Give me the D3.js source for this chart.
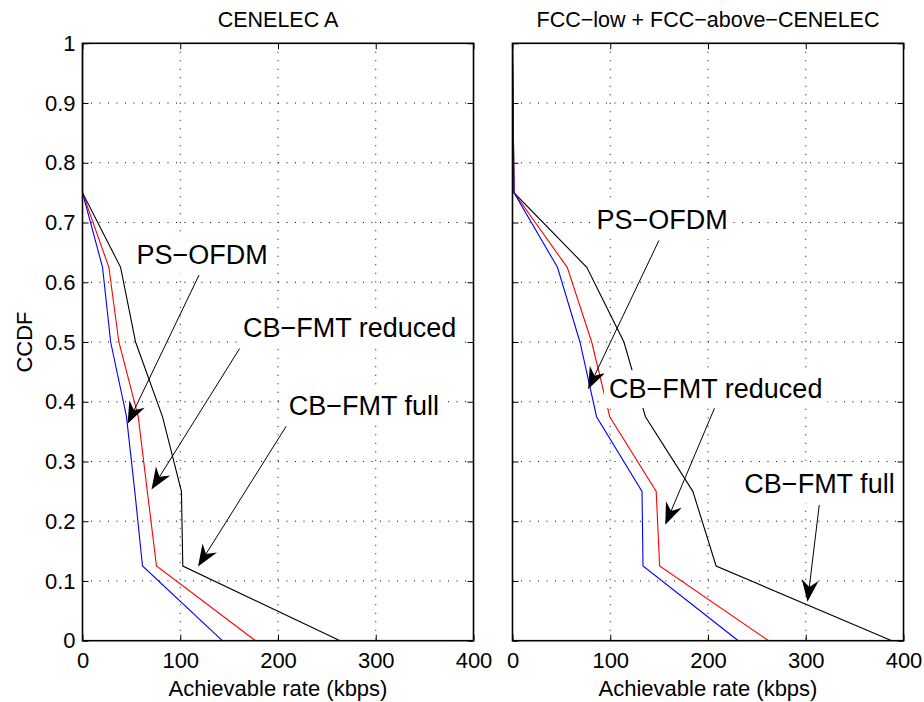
<html>
<head>
  <script src="https://d3js.org/d3.v7.min.js"></script>
  <style>
  body{ margin:0; background:#fff; }
  svg{ display:block; }
  text{ font-family:"Liberation Sans", Arial, Helvetica, sans-serif; fill:#000; }
  </style>
</head>
<body>
  <script type="text/javascript">
    // chart values
    var ccdfLevels=[1,0.75,0.625,0.5,0.375,0.25,0.125,0];
    var xTicks=[0,100,200,300,400];
    var yTicks=[0,0.1,0.2,0.3,0.4,0.5,0.6,0.7,0.8,0.9,1];
    var yTickLabels=["0","0.1","0.2","0.3","0.4","0.5","0.6","0.7","0.8","0.9","1"];
    var panelTitles=["CENELEC A","FCC\u2212low + FCC\u2212above\u2212CENELEC"];
    var seriesNames=["PS\u2212OFDM","CB\u2212FMT reduced","CB\u2212FMT full"];
    var seriesColors=["#0000ff","#ff0000","#000000"];

    var cenelecPsOfdm=[0,0,20.5,28.8,45,53.5,61.4,143];
    var cenelecCbFmtReduced=[0,0,27,37.2,57,66.3,75.7,177];
    var cenelecCbFmtFull=[0,0,39,54.3,81.8,101.2,102.6,263.5];
    var fccPsOfdm=[0,1.5,46,69,86,132.5,133.5,231];
    var fccCbFmtReduced=[0,1.5,56,81,99.5,147,150.5,262];
    var fccCbFmtFull=[0,1.5,76,114,136,184.5,208.3,388];

    // annotation anchors, in data units (kbps, ccdf)
    var cenelecTextPos=[[55.3,0.631],[164.1,0.509],[211,0.378]];
    var cenelecArrowFrom=[[119.2,0.612],[160.7,0.489],[208.4,0.359]];
    var cenelecArrowTo=[[46.1,0.363],[70.6,0.253],[118.2,0.124]];
    var fccTextPos=[[85.9,0.689],[98.8,0.406],[237.2,0.247]];
    var fccArrowFrom=[[149.8,0.670],[206.6,0.389],[313.8,0.227]];
    var fccArrowTo=[[77.3,0.421],[156.3,0.194],[301.8,0.065]];

    var width=924;
    var height=702;
    var plotTop=43.3;
    var plotH=597.4;
    var plotW=391;
    var tickLen=6;

    var panels=[
      {x0:82.5, title:panelTitles[0], series:[cenelecCbFmtFull,cenelecCbFmtReduced,cenelecPsOfdm],
       colors:[seriesColors[2],seriesColors[1],seriesColors[0]],
       textPos:cenelecTextPos, from:cenelecArrowFrom, to:cenelecArrowTo, yLabels:true},
      {x0:512.5, title:panelTitles[1], series:[fccCbFmtFull,fccCbFmtReduced,fccPsOfdm],
       colors:[seriesColors[2],seriesColors[1],seriesColors[0]],
       textPos:fccTextPos, from:fccArrowFrom, to:fccArrowTo, yLabels:false}
    ];

    var svg=d3.select("body").append("svg")
              .attr("width",width)
              .attr("height",height);

    var x=d3.scaleLinear().domain([0,400]).range([0,plotW]);
    var y=d3.scaleLinear().domain([0,1]).range([plotH,0]);

    var line=d3.line()
               .x(function(d){ return x(d[0]) })
               .y(function(d){ return y(d[1]) });

    var drawPanel=function(p){
      var g=svg.append("g").attr("transform","translate("+p.x0+","+plotTop+")");

      // grid
      g.selectAll("line.gx")
       .data(xTicks.slice(1,-1))
       .enter().append("line")
       .attr("x1",function(d){ return x(d) }).attr("x2",function(d){ return x(d) })
       .attr("y1",0).attr("y2",plotH)
       .attr("stroke","#000").attr("stroke-width",1)
       .attr("stroke-dasharray","1,7.5");
      g.selectAll("line.gy")
       .data(yTicks.slice(1,-1))
       .enter().append("line")
       .attr("y1",function(d){ return y(d) }).attr("y2",function(d){ return y(d) })
       .attr("x1",0).attr("x2",plotW)
       .attr("stroke","#000").attr("stroke-width",1)
       .attr("stroke-dasharray","1,7.5");

      // axes
      g.append("g").attr("transform","translate(0,"+plotH+")")
        .call(d3.axisBottom(x).tickValues(xTicks).tickSizeInner(-tickLen).tickSizeOuter(0).tickPadding(12));
      g.append("g")
        .call(d3.axisTop(x).tickValues(xTicks).tickSizeInner(-tickLen).tickSizeOuter(0).tickFormat(""));
      g.append("g")
        .call(d3.axisLeft(y).tickValues(yTicks).tickSizeInner(-tickLen).tickSizeOuter(0).tickPadding(7)
          .tickFormat(function(d,i){ return p.yLabels ? yTickLabels[i] : "" }));
      g.append("g").attr("transform","translate("+plotW+",0)")
        .call(d3.axisRight(y).tickValues(yTicks).tickSizeInner(-tickLen).tickSizeOuter(0).tickFormat(""));
      g.selectAll(".domain").remove();
      g.selectAll(".tick line").attr("stroke","#000").attr("stroke-width",1);
      g.selectAll(".tick text").style("font-size","22px").attr("fill","#000")
       .style("font-family","'Liberation Sans', Arial, Helvetica, sans-serif");

      // curves
      p.series.forEach(function(s,i){
        var pts=s.map(function(v,k){ return [v,ccdfLevels[k]] });
        g.append("path")
         .attr("d",line(pts))
         .attr("fill","none")
         .attr("stroke",p.colors[i])
         .attr("stroke-width",1.1);
      });

      // box
      g.append("rect")
       .attr("x",0).attr("y",0).attr("width",plotW).attr("height",plotH)
       .attr("fill","none").attr("stroke","#000").attr("stroke-width",1.6);

      // title + x label
      g.append("text")
       .attr("x",plotW/2).attr("y",27-plotTop)
       .attr("text-anchor","middle")
       .style("font-size","21.5px")
       .text(p.title);
      g.append("text")
       .attr("x",plotW/2).attr("y",696-plotTop)
       .attr("text-anchor","middle")
       .style("font-size","22px")
       .text("Achievable rate (kbps)");

      // annotations: text boxes with white background, then arrows
      seriesNames.forEach(function(name,i){
        var t=g.append("text")
               .attr("x",x(p.textPos[i][0]))
               .attr("y",y(p.textPos[i][1]))
               .style("font-size","27px")
               .text(name);
        var bb=t.node().getBBox();
        g.insert("rect",function(){ return t.node() })
         .attr("x",bb.x-5).attr("y",bb.y-4)
         .attr("width",bb.width+10).attr("height",bb.height+8)
         .attr("fill","#fff");

        var x1=x(p.from[i][0]), y1=y(p.from[i][1]);
        var x2=x(p.to[i][0]), y2=y(p.to[i][1]);
        var dx=x2-x1, dy=y2-y1, len=Math.sqrt(dx*dx+dy*dy);
        var ux=dx/len, uy=dy/len, nx=-uy, ny=ux;
        var hl=22, hw=8.5, notch=15;
        g.append("line")
         .attr("x1",x1).attr("y1",y1)
         .attr("x2",x2-ux*notch).attr("y2",y2-uy*notch)
         .attr("stroke","#000").attr("stroke-width",1);
        var head=[[x2,y2],
                  [x2-ux*hl+nx*hw, y2-uy*hl+ny*hw],
                  [x2-ux*notch, y2-uy*notch],
                  [x2-ux*hl-nx*hw, y2-uy*hl-ny*hw]];
        g.append("path")
         .attr("d","M"+head.map(function(q){ return q[0]+","+q[1] }).join("L")+"Z")
         .attr("fill","#000");
      });
    }

    panels.forEach(function(p){ drawPanel(p) });

    // y label
    svg.append("text")
       .attr("transform","translate(31.5,"+(plotTop+plotH/2)+") rotate(-90)")
       .attr("text-anchor","middle")
       .style("font-size","22px")
       .text("CCDF");
  </script>
</body>
</html>
